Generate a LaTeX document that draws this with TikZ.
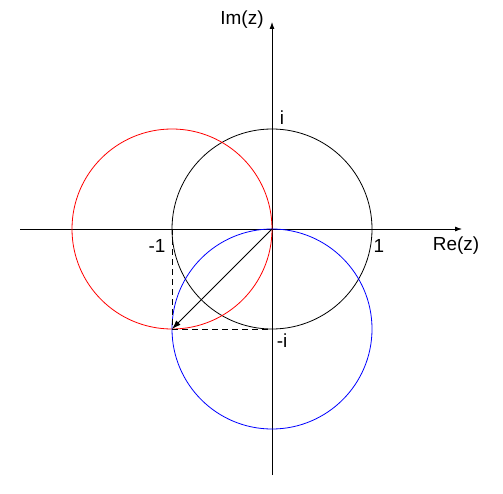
\documentclass[tikz,border=0pt]{standalone}
\usepackage{fontspec}
\setmainfont{Liberation Sans}
\usetikzlibrary{arrows.meta}
\begin{document}
\begin{tikzpicture}[x=1bp,y=-1bp,
  ln/.style={line width=0.8bp},
  axis/.style={ln,-{Latex[length=7bp,width=5bp]}},
  lbl/.style={font=\fontsize{19}{22}\selectfont,inner sep=0pt}]
\useasboundingbox (0,0) rectangle (503,494);
\coordinate (O) at (272,229);
\coordinate (M) at (172,229);
\coordinate (N) at (272,329);
\coordinate (P) at (172,329);
\coordinate (xl) at (20,229);
\coordinate (xr) at (462,229);
\coordinate (yb) at (272,475);
\coordinate (yt) at (272,22);
\draw[axis] (xl) -- (xr);
\draw[axis] (yb) -- (yt);
\draw[ln,black] (O) circle[radius=100];
\draw[ln,red] (M) circle[radius=100];
\draw[ln,blue] (N) circle[radius=100];
\draw[ln,dash pattern=on 6bp off 4bp] (M) -- (P) -- (N);
\draw[ln,-{Latex[length=9bp,width=6bp]}] (O) -- (P);
\node[lbl] (im) at (242,20) {Im(z)};
\node[lbl] (re) at (456,246) {Re(z)};
\node[lbl] (i) at (282,118) {i};
\node[lbl] (one) at (379,246) {1};
\node[lbl] (mone) at (157,246) {-1};
\node[lbl] (mi) at (282,341) {-i};
\end{tikzpicture}
\end{document}
